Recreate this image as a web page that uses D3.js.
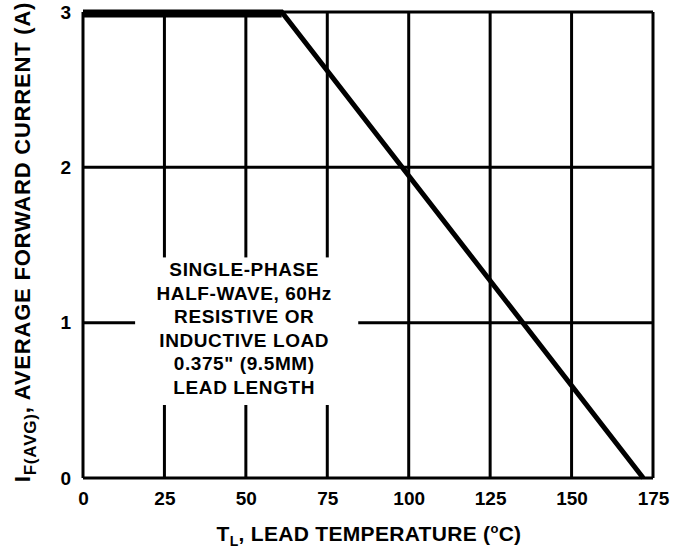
<!DOCTYPE html>
<html>
<head>
<meta charset="utf-8">
<script src="https://cdn.jsdelivr.net/npm/d3@7"></script>
<style>
  body { margin: 0; background: #fff; }
  svg text { font-family: "Liberation Sans", Arial, sans-serif; font-weight: bold; fill: #000; }
</style>
</head>
<body>
<div id="chart"></div>
<script>
// derating curve: lead temperature (C) vs average forward current (A)
var tempC    = [0, 61, 172];
var currentA = [3, 3, 0];
var xTicks   = [0, 25, 50, 75, 100, 125, 150, 175];
var yTicks   = [0, 1, 2, 3];
var noteLines = ["SINGLE-PHASE", "HALF-WAVE, 60Hz", "RESISTIVE OR", "INDUCTIVE LOAD", "0.375\" (9.5MM)", "LEAD LENGTH"];

var width = 675, height = 552;
var margin = {top: 12, right: 22, bottom: 74, left: 83};

var svg = d3.select("#chart").append("svg")
    .attr("width", width)
    .attr("height", height);

var xScale = d3.scaleLinear().domain([0, 175]).range([margin.left, width - margin.right]);
var yScale = d3.scaleLinear().domain([0, 3]).range([height - margin.bottom, margin.top]);

// grid lines
svg.append("g").selectAll("line.v")
  .data(xTicks)
  .enter().append("line")
  .attr("x1", function(d){ return xScale(d); })
  .attr("x2", function(d){ return xScale(d); })
  .attr("y1", yScale(0))
  .attr("y2", yScale(3))
  .attr("stroke", "#000")
  .attr("stroke-width", 3);

svg.append("g").selectAll("line.h")
  .data(yTicks)
  .enter().append("line")
  .attr("x1", xScale(0))
  .attr("x2", xScale(175))
  .attr("y1", function(d){ return yScale(d); })
  .attr("y2", function(d){ return yScale(d); })
  .attr("stroke", "#000")
  .attr("stroke-width", 3);

// white box behind the note
svg.append("rect")
  .attr("x", xScale(16))
  .attr("y", yScale(1.42))
  .attr("width", xScale(84.5) - xScale(16))
  .attr("height", yScale(0.47) - yScale(1.42))
  .attr("fill", "#fff");

// note text
svg.append("g").selectAll("text")
  .data(noteLines)
  .enter().append("text")
  .attr("x", xScale(49.5))
  .attr("y", function(d, i){ return yScale(1.3) + i * 23.6; })
  .attr("text-anchor", "middle")
  .style("font-size", "19px")
  .style("letter-spacing", "0.6px")
  .text(function(d){ return d; });

// derating curve
var line = d3.line()
  .x(function(d, i){ return xScale(tempC[i]); })
  .y(function(d){ return yScale(d); });

svg.append("path")
  .datum(currentA)
  .attr("d", line)
  .attr("fill", "none")
  .attr("stroke", "#000")
  .attr("stroke-width", 5)
  .attr("stroke-linejoin", "miter");

// thick top run of the curve
svg.append("line")
  .attr("x1", xScale(0))
  .attr("x2", xScale(tempC[1]))
  .attr("y1", yScale(currentA[0]) + 3)
  .attr("y2", yScale(currentA[1]) + 3)
  .attr("stroke", "#000")
  .attr("stroke-width", 5);

// axes (labels only)
var xAxis = d3.axisBottom(xScale).tickValues(xTicks).tickSize(0).tickPadding(14).tickFormat(d3.format("d"));
var xAxisEl = svg.append("g")
  .attr("transform", "translate(0," + yScale(0) + ")")
  .call(xAxis);
xAxisEl.select(".domain").remove();
xAxisEl.selectAll("text").style("font-size", "19px").style("font-family", "Liberation Sans, Arial, sans-serif").style("font-weight", "bold");

var yAxis = d3.axisLeft(yScale).tickValues(yTicks).tickSize(0).tickPadding(12).tickFormat(d3.format("d"));
var yAxisEl = svg.append("g")
  .attr("transform", "translate(" + xScale(0) + ",0)")
  .call(yAxis);
yAxisEl.select(".domain").remove();
yAxisEl.selectAll("text").style("font-size", "19px").style("font-family", "Liberation Sans, Arial, sans-serif").style("font-weight", "bold");

// x title
var xt = svg.append("text")
  .attr("x", 369)
  .attr("y", 541)
  .attr("text-anchor", "middle")
  .style("font-size", "21px")
  .style("letter-spacing", "0.3px");
xt.append("tspan").text("T");
xt.append("tspan").attr("dy", 5).style("font-size", "14px").text("L");
xt.append("tspan").attr("dy", -5).text(", LEAD TEMPERATURE (");
xt.append("tspan").attr("dy", -8).style("font-size", "13px").text("o");
xt.append("tspan").attr("dy", 8).text("C)");

// y title
var yt = svg.append("text")
  .attr("transform", "translate(30," + 242 + ") rotate(-90)")
  .attr("text-anchor", "middle")
  .style("font-size", "22px")
  .style("letter-spacing", "0.8px");
yt.append("tspan").text("I");
yt.append("tspan").attr("dy", 6).style("font-size", "17px").text("F(AVG)");
yt.append("tspan").attr("dy", -6).text(", AVERAGE FORWARD CURRENT (A)");
</script>
</body>
</html>
